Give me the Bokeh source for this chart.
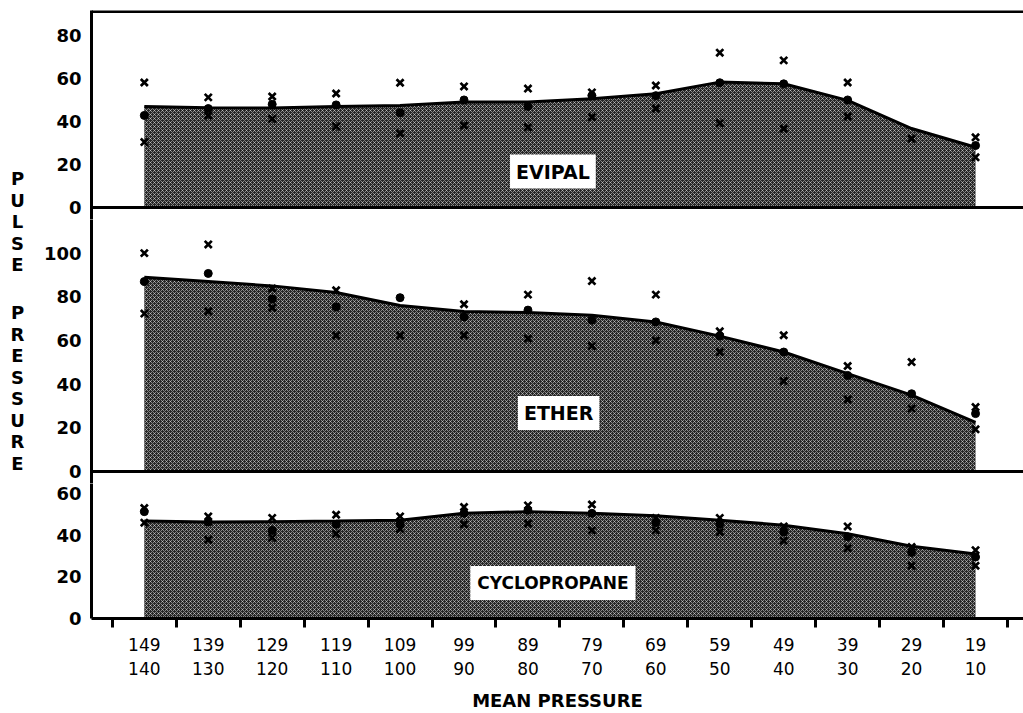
from bokeh.plotting import figure
from bokeh.models import ColumnDataSource, FixedTicker, Label, Span, Range1d
from bokeh.layouts import row, column
from bokeh.embed import file_html
from bokeh.resources import INLINE

NaN = float("nan")

# ---------------- data ----------------
range_hi = ["149", "139", "129", "119", "109", "99", "89", "79", "69", "59", "49", "39", "29", "19"]
range_lo = ["140", "130", "120", "110", "100", "90", "80", "70", "60", "50", "40", "30", "20", "10"]

evipal_curve = [47, 46.4, 46.2, 47, 47.4, 49, 49, 50.6, 52.9, 58.3, 57.5, 49.8, 36.7, 28]
evipal_mean = [42.8, 46, 48, 47.7, 44, 50, 47, 52, 52, 58, 57.5, 50, NaN, 28.8]
evipal_high = [58.1, 51.2, 51.6, 53, 58, 56.3, 55.3, 53.5, 56.7, 72, 68.4, 58.1, NaN, 32.6]
evipal_low = [30.4, 42.8, 41.2, 37.7, 34.4, 38.1, 37.3, 42, 46, 39.2, 36.6, 42.3, 32, 23.3]

ether_curve = [89, 87, 85, 82, 76, 73.3, 72.8, 71.6, 68.5, 62, 54.7, 44.8, 35, 22.5]
ether_mean = [87, 90.7, 79, 75.4, 79.6, 70.8, 73.9, 69.3, 68.5, 62, 54.7, 44, 35.6, 26.5]
ether_high = [100, 104, 83.8, 83, NaN, 76.6, 81, 87.2, 81, 64.2, 62.4, 48.3, 50.1, 29.5]
ether_low = [72.3, 73.4, 75, 62.3, 62.3, 62.4, 60.9, 57.5, 60, 54.7, 41.4, 33, 28.8, 19.3]

cyclo_curve = [46.8, 46.3, 46.5, 46.8, 47.2, 50.5, 51.3, 50.5, 49.3, 47.2, 44.8, 40.7, 34.7, 31]
cyclo_mean = [51.3, 46.3, 42.3, 45.2, 45.2, 50.5, 52, 50.5, 46, 45.2, 41.5, 39.2, 31.7, 29.5]
cyclo_high = [53, 49, 48.3, 49.8, 49, 53.5, 54.3, 54.7, 48.3, 48.3, 44.2, 44.2, 34.3, 32.8]
cyclo_low = [46, 37.8, 38.8, 40.7, 43, 45.2, 45.6, 42.3, 42.3, 41.5, 37.3, 33.7, 25.3, 25.3]

y_title = "PULSE PRESSURE"
x_title = "MEAN PRESSURE"

# ---------------- layout ----------------
FONT = "DejaVu Sans"
LW = 40
PW = 1023 - LW
xs = list(range(len(range_hi)))
XR = Range1d(-0.826, 13.75)


def panel(name, curve, mean, high, low, ystart, yend, ticks, height, top, bottom,
          lab_x, lab_y, lab_size, pad):
    p = figure(width=PW, height=height, x_range=XR, y_range=Range1d(ystart, yend),
               output_backend="svg", toolbar_location=None,
               x_axis_location="below" if bottom else None,
               min_border_left=48, min_border_right=0,
               min_border_top=10 if top else 0,
               min_border_bottom=86 if bottom else 0)
    p.outline_line_color = None
    p.grid.visible = False
    p.background_fill_color = "white"
    src = ColumnDataSource(dict(x=xs, curve=curve, mean=mean, high=high, low=low))
    p.varea(x="x", y1=0, y2="curve", source=src, fill_color="#262626",
            hatch_pattern="diagonal_cross", hatch_color="white", hatch_alpha=0.45,
            hatch_scale=4, hatch_weight=1)
    p.line(x="x", y="curve", source=src, line_width=3, line_color="black")
    p.scatter(x="x", y="high", source=src, marker="x", size=10, line_width=2.7, line_color="black")
    p.scatter(x="x", y="low", source=src, marker="x", size=10, line_width=2.7, line_color="black")
    p.scatter(x="x", y="mean", source=src, marker="circle", size=8, fill_color="black", line_color="black")

    if top:
        p.add_layout(Span(location=yend, dimension="width", line_width=5, line_color="black"))
    if not bottom:
        p.add_layout(Span(location=0, dimension="width", line_width=3, line_color="black"))

    p.add_layout(Label(x=lab_x, y=lab_y, text=name, text_align="center", text_baseline="middle",
                       text_font=FONT, text_font_style="bold", text_font_size=lab_size,
                       text_color="black", background_fill_color="white", padding=pad))

    ya = p.yaxis[0]
    ya.ticker = FixedTicker(ticks=ticks)
    ya.axis_line_width = 3
    ya.major_tick_out = 0
    ya.major_tick_in = 0
    ya.minor_tick_out = 0
    ya.minor_tick_in = 0
    ya.major_label_standoff = 10
    ya.major_label_text_font = FONT
    ya.major_label_text_font_style = "bold"
    ya.major_label_text_font_size = "18px"
    ya.major_label_text_color = "black"

    if bottom:
        xa = p.xaxis[0]
        xa.ticker = FixedTicker(ticks=xs, minor_ticks=[i - 0.5 for i in range(len(xs) + 1)])
        xa.axis_line_width = 3
        xa.major_tick_out = 0
        xa.major_tick_in = 0
        xa.minor_tick_out = 9
        xa.minor_tick_in = 0
        xa.minor_tick_line_width = 3
        xa.major_label_overrides = {i: f"{h}\n{l}" for i, h, l in zip(xs, range_hi, range_lo)}
        xa.major_label_standoff = 7
        xa.major_label_text_font = FONT
        xa.major_label_text_font_size = "17px"
        xa.major_label_text_color = "black"
        xa.axis_label = x_title
        xa.axis_label_standoff = 8
        xa.axis_label_text_font = FONT
        xa.axis_label_text_font_style = "bold"
        xa.axis_label_text_font_size = "18px"
        xa.axis_label_text_color = "black"
    return p


# each upper panel keeps a 12 px white strip below its zero line so its "0" tick label fits
p1 = panel("EVIPAL", evipal_curve, evipal_mean, evipal_high, evipal_low,
           -5.6, 91.6, [0, 20, 40, 60, 80], 219, True, False, 6.39, 16.7, "19px", 6)
p2 = panel("ETHER", ether_curve, ether_mean, ether_high, ether_low,
           -5.5, 115.4, [0, 20, 40, 60, 80, 100], 264, False, False, 6.48, 26.8, "19px", 6)
p3 = panel("CYCLOPROPANE", cyclo_curve, cyclo_mean, cyclo_high, cyclo_low,
           0, 64.8, [0, 20, 40, 60], 230, False, True, 6.39, 17.1, "17px", 7)

# vertical stacked y title
lf = figure(width=LW, height=713, x_range=Range1d(0, 1), y_range=Range1d(0, 713),
            output_backend="svg", toolbar_location=None,
            x_axis_location=None, y_axis_location=None,
            min_border=0)
lf.outline_line_color = None
lf.grid.visible = False
row_i = 0
y0 = 713 - 178
for ch in y_title:
    if ch == " ":
        row_i += 1.25
        continue
    lf.add_layout(Label(x=17, y=y0 - row_i * 21.5, x_units="screen", y_units="screen", text=ch,
                        text_align="center", text_baseline="middle", text_font=FONT,
                        text_font_style="bold", text_font_size="18px", text_color="black"))
    row_i += 1

layout = row(lf, column(p1, p2, p3, spacing=0), spacing=0)
open("out.html", "w").write(file_html(layout, INLINE))
